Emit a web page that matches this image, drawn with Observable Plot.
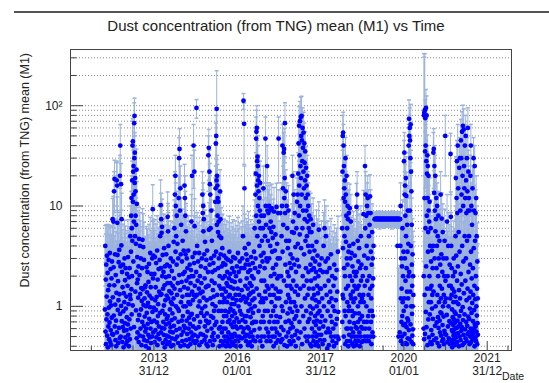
<!DOCTYPE html>
<html><head><meta charset="utf-8">
<script src="https://cdn.jsdelivr.net/npm/d3@7"></script>
<script src="https://cdn.jsdelivr.net/npm/@observablehq/plot@0.6"></script>
<style>
html,body{margin:0;padding:0;background:#fff;}
#chart{position:relative;width:549px;height:383px;overflow:hidden;}
</style></head><body><div id="chart"></div>
<script>
// Each entry: [fraction of year, mean dust concentration, error]
const y2012 = [[.822,0.93,3.1],[.831,4.0,2.4],[.836,0.56,2.2],[.842,1.85,3.4],[.848,0.42,1.6],[.853,2.6,3.9],[.859,0.74,2.5],[.864,1.25,2.8],[.871,3.2,3.3],[.876,0.51,1.9],[.882,0.83,2.9],[.887,2.15,4.4],[.893,0.39,1.4],[.899,1.45,3.0],[.904,0.63,2.2],[.911,2.9,3.6],[.916,0.97,2.6],[.922,0.47,1.7],[.928,1.62,3.5],[.933,0.69,2.3],[.939,3.4,2.9],[.945,1.12,2.7],[.951,0.44,1.5],[.957,2.35,3.8],[.962,0.58,2.0],[.968,1.02,3.1],[.974,0.41,1.3],[.979,1.9,3.3],[.985,0.77,2.4],[.991,2.8,3.6],[.996,0.53,1.8]];
const y2013 = [[.006,7.4,4.5],[.011,1.23,3.2],[.017,0.52,2.1],[.024,7.0,5.5],[.029,2.45,3.6],[.034,0.81,2.7],[.041,14,8],[.046,1.62,3.4],[.052,18.6,10],[.057,0.63,2.3],[.063,3.3,4.2],[.068,1.04,2.9],[.074,0.46,1.8],[.081,2.05,3.5],[.087,0.72,2.6],[.093,0.4,1.2],[.099,1.36,3.1],[.105,18,9],[.108,0.55,2.0],[.114,16,12],[.119,6.8,5.5],[.124,3.25,4.0],[.13,0.92,2.8],[.136,1.78,3.6],[.141,0.43,1.6],[.147,1.15,3.0],[.153,2.75,3.9],[.159,0.61,2.2],[.165,3.65,5],[.171,1.32,3.2],[.177,0.48,1.9],[.183,20,12],[.186,0.84,2.7],[.19,40,25],[.195,2.5,3.8],[.201,0.5,2.0],[.207,16.5,10],[.211,1.01,2.9],[.216,4.05,5],[.222,7.4,6],[.227,0.71,2.5],[.233,2.2,3.6],[.239,0.44,1.7],[.245,1.55,3.3],[.251,0.62,2.2],[.257,2.6,4],[.263,0.89,2.8],[.269,0.39,1.3],[.275,1.35,3.1],[.281,0.57,2.1],[.287,1.1,3.0],[.293,3.0,4.2],[.299,0.68,2.4],[.305,1.82,3.5],[.311,0.49,1.9],[.317,2.4,3.9],[.323,0.95,2.9],[.329,0.42,1.5],[.335,1.25,3.1],[.341,0.58,2.1],[.347,0.78,2.6],[.353,2.1,3.6],[.359,0.45,1.7],[.365,1.6,3.2],[.371,0.66,2.3],[.377,3.1,4.2],[.383,0.52,2.0],[.389,1.05,2.9],[.395,0.4,1.4],[.401,1.95,3.5],[.407,0.74,2.5],[.413,2.4,3.8],[.419,0.47,1.8],[.425,1.3,3.1],[.431,5.0,5],[.436,1.18,3.0],[.441,0.6,2.2],[.447,3.5,4.2],[.452,8.0,6],[.456,1.48,3.3],[.46,12,8],[.464,0.83,2.7],[.468,6.0,5],[.472,2.0,3.6],[.476,18,10],[.48,4.5,4.8],[.484,40,30],[.488,1.02,2.9],[.492,44,30],[.496,11,8],[.5,22,14],[.504,2.8,4],[.508,25,15],[.512,13,9],[.516,7,6],[.52,0.62,2.2],[.524,67,40],[.528,30,20],[.532,79,40],[.536,17,10],[.54,34,20],[.544,5,5],[.548,19,12],[.552,1.4,3.3],[.556,14,9],[.56,8,6],[.564,4.2,4.6],[.568,0.91,2.8],[.572,6.5,5.5],[.576,2.2,3.7],[.58,23,14],[.584,0.48,1.9],[.588,10.5,7],[.592,1.7,3.4],[.597,3.1,4.2],[.603,0.55,2.0],[.609,1.85,3.5],[.615,0.73,2.5],[.621,1.22,3.1],[.627,2.5,3.9],[.633,0.44,1.7],[.64,4.7,5],[.646,0.82,2.7],[.652,2.05,3.6],[.658,0.51,2.0],[.664,4.0,4.6],[.67,1.33,3.2],[.676,0.6,2.2],[.682,3.0,4.1],[.688,0.93,2.8],[.694,1.52,3.3],[.7,0.41,1.5],[.706,1.13,3.0],[.712,2.4,3.8],[.718,0.7,2.4],[.724,4.6,4.8],[.73,1.48,3.2],[.736,0.5,1.9],[.742,3.9,4.5],[.748,1.03,2.9],[.754,0.64,2.2],[.76,2.9,4.0],[.766,0.46,1.8],[.772,1.2,3.0],[.778,0.79,2.6],[.784,1.55,3.3],[.79,0.56,2.0],[.796,1.62,3.3],[.802,0.4,1.4],[.808,1.0,2.9],[.814,0.6,2.1],[.82,2.45,3.8],[.826,0.86,2.8],[.832,1.38,3.2],[.838,0.45,1.7],[.844,2.2,3.7],[.85,0.67,2.3],[.856,1.08,3.0],[.862,0.52,2.0],[.868,1.75,3.4],[.874,0.38,1.2],[.88,2.65,3.9],[.886,0.75,2.5],[.892,1.28,3.1],[.898,0.49,1.9],[.904,0.98,2.9],[.91,3.4,4.3],[.916,0.6,2.1],[.922,1.55,3.3],[.928,0.43,1.6],[.934,2.1,3.6],[.94,0.7,2.4],[.946,1.2,3.1],[.952,0.5,1.9],[.958,3.0,4.1],[.964,0.88,2.8],[.97,9.3,7],[.976,1.9,3.5],[.982,0.55,2.0],[.988,3.2,4.2],[.994,0.97,2.9]];
const y2014 = [[.004,0.72,2.5],[.01,2.1,3.6],[.016,0.44,1.7],[.022,3.1,4.2],[.028,1.15,3.0],[.034,0.58,2.1],[.04,1.55,3.3],[.046,0.92,2.8],[.052,2.7,3.9],[.058,0.49,1.9],[.064,1.24,3.1],[.07,0.69,2.4],[.076,3.6,4.4],[.082,0.41,1.5],[.088,1.85,3.4],[.094,0.8,2.6],[.1,1.05,2.9],[.106,0.53,2.0],[.112,2.35,3.7],[.118,0.63,2.2],[.124,1.4,3.2],[.13,0.47,1.8],[.136,2.9,4.0],[.142,0.86,2.7],[.148,5.0,5],[.154,1.3,3.1],[.16,10.2,8],[.164,2.4,3.8],[.168,0.55,2.0],[.173,7.4,6],[.178,1.32,3.2],[.183,5.4,5],[.188,0.61,2.2],[.193,6.2,5.5],[.198,2.0,3.6],[.203,0.9,2.8],[.208,3.25,4.2],[.213,0.43,1.6],[.218,1.5,3.3],[.223,0.7,2.4],[.228,2.2,3.7],[.233,0.52,2.0],[.238,1.02,2.9],[.243,3.8,4.5],[.248,0.6,2.1],[.253,1.62,3.3],[.258,0.39,1.3],[.263,2.5,3.9],[.268,0.83,2.7],[.273,1.15,3.0],[.278,0.46,1.8],[.283,1.95,3.5],[.288,0.66,2.3],[.293,3.3,4.2],[.298,0.51,1.9],[.303,1.28,3.1],[.308,0.75,2.5],[.313,2.6,3.9],[.318,0.42,1.6],[.323,1.7,3.4],[.328,7.8,6],[.333,0.8,2.6],[.338,5.6,5],[.343,1.2,3.0],[.348,4.0,4.6],[.353,0.5,1.9],[.358,2.0,3.6],[.363,0.68,2.4],[.368,1.42,3.2],[.373,0.44,1.7],[.378,2.5,3.9],[.383,0.93,2.8],[.388,0.56,2.1],[.393,1.7,3.4],[.398,0.62,2.2],[.403,3.0,4.1],[.408,1.1,3.0],[.413,0.4,1.4],[.418,1.35,3.1],[.423,0.73,2.5],[.428,2.25,3.7],[.433,0.48,1.9],[.438,1.05,2.9],[.443,0.85,2.7],[.448,1.6,3.3],[.453,0.55,2.0],[.458,2.8,4.0],[.463,0.41,1.5],[.468,1.2,3.0],[.473,4.4,4.7],[.478,0.64,2.3],[.483,1.9,3.5],[.488,6.0,5.5],[.493,1.5,3.3],[.498,0.76,2.5],[.503,13,9],[.508,0.47,1.8],[.513,20,12],[.518,3.5,4.3],[.523,10,7],[.528,1.0,2.9],[.533,5.0,5],[.538,0.58,2.1],[.543,2.6,3.9],[.548,8.0,6],[.553,1.3,3.1],[.558,0.5,1.9],[.563,4.2,4.6],[.568,0.95,2.8],[.573,1.7,3.4],[.578,0.43,1.6],[.583,3.0,4.1],[.588,0.7,2.4],[.593,12,8],[.598,0.9,2.8],[.603,30,18],[.608,2.05,3.6],[.613,37,22],[.618,0.6,2.2],[.623,9,7],[.628,1.45,3.2],[.633,15,10],[.638,0.4,1.4],[.643,3.3,4.2],[.648,1.1,3.0],[.653,6.5,5.5],[.658,0.52,2.0],[.663,1.75,3.4],[.668,0.72,2.5],[.673,2.8,4.0],[.678,0.45,1.7],[.683,1.25,3.1],[.688,4.5,4.8],[.693,0.8,2.6],[.698,2.1,3.6],[.703,0.56,2.1],[.708,1.0,2.9],[.713,3.6,4.4],[.718,0.64,2.3],[.723,1.55,3.3],[.728,0.41,1.5],[.733,16,10],[.738,2.2,3.7],[.743,12,8],[.748,0.61,2.2],[.753,8,6],[.758,3.3,4.2],[.763,1.0,2.9],[.768,5.6,5],[.773,0.46,1.8],[.778,1.8,3.4],[.783,0.72,2.5],[.788,3.0,4.1],[.793,1.3,3.1],[.798,0.53,2.0],[.803,2.4,3.8],[.808,0.88,2.8],[.813,1.5,3.3],[.818,0.4,1.4],[.823,3.6,4.4],[.828,1.1,3.0],[.833,0.6,2.2],[.838,1.95,3.5],[.843,0.77,2.6],[.848,1.3,3.1],[.853,0.47,1.8],[.858,2.6,3.9],[.863,0.67,2.4],[.868,1.05,2.9],[.873,0.42,1.6],[.878,1.7,3.4],[.883,0.82,2.7],[.888,2.3,3.7],[.893,0.55,2.0],[.898,7,6],[.903,2.0,3.6],[.908,0.84,2.7],[.913,20,12],[.918,1.4,3.2],[.923,0.5,1.9],[.928,3.1,4.2],[.933,1.15,3.0],[.938,0.63,2.3],[.943,2.0,3.6],[.947,0.45,1.7],[.951,40,25],[.955,1.3,3.1],[.96,0.74,2.5],[.964,2.7,3.9],[.968,22,14],[.972,0.52,2.0],[.975,6.3,5.5],[.979,1.6,3.3],[.983,3.4,4.3],[.988,0.43,1.6],[.993,1.25,3.1]];
const y2015 = [[.006,0.6,2.2],[.012,2.2,3.7],[.02,95,20],[.024,0.45,1.7],[.03,1.3,3.1],[.036,4.0,4.6],[.042,0.8,2.6],[.048,1.8,3.4],[.054,0.5,1.9],[.06,2.8,4.0],[.066,1.0,2.9],[.072,0.62,2.2],[.078,1.5,3.3],[.084,3.4,4.3],[.09,0.41,1.5],[.096,1.12,3.0],[.102,2.0,3.6],[.108,0.7,2.4],[.114,1.35,3.2],[.12,0.53,2.0],[.126,2.5,3.9],[.132,0.86,2.7],[.138,1.7,3.4],[.144,0.44,1.7],[.15,3.0,4.1],[.156,0.95,2.8],[.162,13,9],[.166,1.4,3.2],[.171,8.5,6],[.176,0.52,2.0],[.181,10,7],[.186,5.6,5],[.191,1.22,3.1],[.196,7.4,6],[.201,0.8,2.6],[.206,3.3,4.2],[.211,0.46,1.8],[.216,1.9,3.5],[.221,0.63,2.3],[.226,4.4,4.7],[.231,1.0,2.9],[.236,2.4,3.8],[.241,0.5,1.9],[.246,1.55,3.3],[.251,0.72,2.5],[.256,2.9,4.0],[.261,0.42,1.6],[.266,1.15,3.0],[.271,0.85,2.7],[.276,3.6,4.4],[.281,0.57,2.1],[.286,1.6,3.3],[.291,0.4,1.4],[.296,2.2,3.7],[.301,0.68,2.4],[.306,32,18],[.311,1.6,3.3],[.316,38,20],[.321,5.8,5],[.326,0.7,2.4],[.331,22,14],[.336,2.6,3.9],[.341,16.5,10],[.346,0.45,1.7],[.351,13,9],[.356,1.2,3.0],[.361,6.0,5.5],[.366,0.8,2.6],[.371,3.0,4.1],[.376,9,7],[.381,0.6,2.2],[.386,1.8,3.4],[.391,4.5,4.8],[.396,0.5,1.9],[.401,2.2,3.7],[.406,1.05,2.9],[.411,0.41,1.5],[.416,1.45,3.2],[.421,0.77,2.6],[.426,2.7,3.9],[.431,0.54,2.0],[.436,1.25,3.1],[.441,0.9,2.8],[.446,3.2,4.2],[.451,0.46,1.8],[.456,1.7,3.4],[.461,0.65,2.3],[.466,2.3,3.7],[.471,11,8],[.476,1.0,2.9],[.481,15,10],[.486,42,25],[.49,3.5,4.3],[.494,50,30],[.498,0.7,2.4],[.502,18,11],[.506,93,130],[.51,6.5,5.5],[.514,20,12],[.518,1.3,3.1],[.522,16,10],[.526,8,6],[.53,12,8],[.534,0.5,1.9],[.538,5.5,5],[.542,2.4,3.8],[.546,11,8],[.55,0.9,2.8],[.554,7.0,6],[.558,3.0,4.1],[.562,0.6,2.2],[.566,1.6,3.3],[.57,5.0,5],[.574,0.4,1.4],[.578,2.0,3.6],[.582,1.1,3.0],[.586,14,9],[.59,0.62,2.2],[.595,7.4,6],[.6,3.3,4.2],[.605,1.5,3.3],[.61,0.45,1.7],[.615,4.8,4.8],[.62,0.9,2.8],[.625,2.5,3.9],[.63,0.55,2.0],[.635,1.3,3.1],[.64,3.8,4.5],[.645,0.7,2.4],[.65,1.9,3.5],[.655,0.41,1.5],[.66,1.1,3.0],[.665,2.7,3.9],[.67,0.6,2.2],[.675,1.5,3.3],[.68,0.8,2.6],[.685,3.2,4.2],[.69,0.5,1.9],[.695,1.2,3.1],[.7,2.0,3.6],[.705,0.45,1.7],[.71,0.9,2.8],[.715,2.6,3.9],[.72,0.6,2.2],[.725,1.4,3.2],[.73,0.4,1.4],[.735,3.0,4.1],[.74,0.8,2.6],[.745,1.7,3.4],[.75,0.5,1.9],[.755,1.1,3.0],[.76,2.2,3.7],[.765,0.43,1.6],[.77,1.6,3.3],[.775,0.7,2.4],[.78,2.9,4.0],[.785,0.55,2.0],[.79,1.25,3.1],[.795,0.88,2.8],[.8,1.9,3.5],[.805,0.47,1.8],[.81,3.5,4.4],[.815,0.73,2.5],[.82,1.3,3.1],[.825,0.4,1.4],[.83,2.1,3.6],[.835,0.95,2.8],[.84,1.55,3.3],[.845,0.52,2.0],[.85,2.8,4.0],[.855,0.66,2.3],[.86,1.05,2.9],[.865,0.44,1.7],[.87,1.8,3.4],[.875,0.8,2.6],[.88,2.4,3.8],[.885,0.49,1.9],[.89,1.2,3.0],[.895,0.62,2.2],[.9,3.1,4.2],[.905,0.9,2.8],[.91,1.5,3.3],[.915,0.41,1.5],[.92,2.2,3.7],[.925,0.7,2.4],[.93,1.05,2.9],[.935,0.53,2.0],[.94,1.75,3.4],[.945,0.85,2.7],[.95,3.0,4.1],[.955,0.45,1.7],[.96,1.3,3.1],[.965,0.63,2.3],[.97,2.0,3.6],[.975,0.4,1.4],[.98,1.15,3.0],[.985,0.76,2.6],[.99,2.5,3.9],[.995,0.5,1.9]];
const y2016 = [[.005,0.6,2.2],[.011,1.5,3.3],[.017,3.4,4.3],[.023,0.45,1.7],[.029,1.0,2.9],[.035,2.2,3.7],[.041,0.7,2.4],[.047,1.3,3.1],[.053,0.5,1.9],[.059,2.8,4.0],[.065,0.9,2.8],[.071,1.8,3.4],[.077,0.4,1.4],[.083,1.15,3.0],[.089,0.62,2.2],[.095,2.4,3.8],[.101,0.83,2.7],[.107,1.45,3.2],[.113,0.48,1.8],[.119,3.0,4.1],[.125,0.73,2.5],[.131,1.2,3.0],[.137,5.0,5],[.143,0.55,2.0],[.149,112,20],[.153,1.25,3.1],[.158,0.6,2.2],[.163,66,40],[.167,2.4,3.8],[.172,15,10],[.176,0.8,2.6],[.181,3.8,4.5],[.186,0.5,1.9],[.191,1.6,3.3],[.196,0.7,2.4],[.201,2.6,3.9],[.206,1.1,3.0],[.211,0.45,1.7],[.216,3.3,4.2],[.221,0.8,2.6],[.226,1.9,3.5],[.231,0.52,2.0],[.236,1.2,3.0],[.241,2.9,4.0],[.246,0.62,2.2],[.251,1.5,3.3],[.256,0.41,1.5],[.261,2.2,3.7],[.266,0.9,2.8],[.271,4.2,4.6],[.276,0.6,2.2],[.281,1.3,3.1],[.286,2.6,3.9],[.291,0.5,1.9],[.296,1.05,2.9],[.301,1.7,3.4],[.306,0.44,1.7],[.311,2.3,3.7],[.316,0.78,2.6],[.321,1.35,3.2],[.326,0.55,2.0],[.331,3.1,4.2],[.336,0.95,2.8],[.341,1.6,3.3],[.346,0.4,1.4],[.351,2.0,3.6],[.356,0.68,2.4],[.361,1.15,3.0],[.366,0.5,1.9],[.371,2.7,3.9],[.376,0.86,2.7],[.381,1.4,3.2],[.386,0.46,1.8],[.391,1.9,3.5],[.396,0.7,2.4],[.401,3.5,4.4],[.406,0.58,2.1],[.411,1.2,3.0],[.416,6.0,5.5],[.421,1.0,2.9],[.426,2.4,3.8],[.431,0.45,1.7],[.436,13,9],[.44,3.0,4.1],[.444,21,13],[.448,0.7,2.4],[.452,47,30],[.456,8,6],[.46,55,35],[.464,1.5,3.3],[.468,60,40],[.472,16,10],[.476,28,17],[.48,5,5],[.484,31,19],[.488,0.5,1.9],[.492,25,15],[.496,10,7],[.5,18,11],[.504,2.2,3.7],[.508,14,9],[.512,0.9,2.8],[.516,20,12],[.52,7,6],[.524,1.3,3.1],[.528,12,8],[.532,4.0,4.6],[.536,0.6,2.2],[.54,9,7],[.544,2.5,3.9],[.548,17,11],[.552,0.45,1.7],[.556,6.0,5.5],[.56,1.1,3.0],[.565,3.2,4.2],[.57,0.7,2.4],[.575,8,6],[.58,1.8,3.4],[.585,0.5,1.9],[.59,4.5,4.8],[.595,1.2,3.0],[.6,0.4,1.4],[.605,2.8,4.0],[.61,0.8,2.6],[.615,6.0,5.5],[.62,1.1,3.0],[.625,15,10],[.63,3.4,4.3],[.635,0.7,2.4],[.64,8,6],[.645,1.8,3.4],[.65,0.5,1.9],[.655,2.4,3.8],[.66,0.9,2.8],[.665,5.0,5],[.67,1.4,3.2],[.675,47,30],[.68,10,7],[.685,1.2,3.0],[.69,6.5,5.5],[.695,0.6,2.2],[.7,3.0,4.1],[.705,0.45,1.7],[.71,1.6,3.3],[.715,25,15],[.72,2.8,4.0],[.725,9,7],[.73,0.9,2.8],[.735,4.5,4.8],[.74,0.55,2.0],[.745,8.5,6],[.75,1.5,3.3],[.755,0.5,1.9],[.76,10,7],[.765,3.0,4.1],[.77,0.7,2.4],[.775,6.0,5.5],[.78,9,7],[.785,1.3,3.1],[.79,4.0,4.6],[.795,0.45,1.7],[.8,7.0,6],[.805,2.0,3.6],[.81,0.8,2.6],[.815,5.5,5],[.82,1.1,3.0],[.825,9.5,7],[.83,0.6,2.2],[.835,3.5,4.4],[.84,1.6,3.3],[.845,0.5,1.9],[.85,4.8,4.8],[.855,2.4,3.8],[.86,0.9,2.8],[.865,6.2,5.5],[.87,0.4,1.4],[.875,1.3,3.1],[.88,8.8,6.5],[.885,0.7,2.4],[.89,2.1,3.6],[.895,0.5,1.9],[.9,3.6,4.4],[.905,1.0,2.9],[.91,0.6,2.2],[.915,5.2,5],[.92,1.5,3.3],[.925,0.43,1.6],[.93,2.6,3.9],[.935,0.8,2.6],[.94,9.8,7],[.945,1.2,3.0],[.95,0.55,2.0],[.955,4.2,4.6],[.96,1.9,3.5],[.965,0.7,2.4],[.97,3.0,4.1],[.975,0.46,1.8],[.98,8.5,6],[.985,1.4,3.2],[.99,47,30],[.995,2.0,3.6]];
const y2017 = [[.005,1.2,3.0],[.012,0.52,2.0],[.018,3.0,4.1],[.024,0.78,2.6],[.03,8.5,6],[.036,1.4,3.2],[.042,0.44,1.7],[.048,2.0,3.6],[.054,0.62,2.2],[.06,5.0,5],[.066,1.0,2.9],[.072,10,7],[.077,0.47,1.8],[.082,40,25],[.087,3.5,4.4],[.092,0.9,2.8],[.097,15,10],[.102,6.5,5.5],[.107,0.58,2.1],[.112,34,20],[.117,1.8,3.4],[.122,37,22],[.127,12,8],[.132,0.41,1.5],[.137,19,12],[.142,67,40],[.147,8.5,6],[.152,2.6,3.9],[.157,0.7,2.4],[.162,14,9],[.167,1.1,3.0],[.172,4.5,4.8],[.177,0.5,1.9],[.182,10,7],[.187,1.6,3.3],[.192,0.4,1.4],[.197,6.0,5.5],[.202,2.2,3.7],[.207,0.85,2.7],[.212,3.8,4.5],[.217,1.3,3.1],[.222,0.55,2.0],[.227,9,7],[.232,2.0,3.6],[.237,0.72,2.5],[.242,4.5,4.8],[.247,1.2,3.0],[.252,0.45,1.7],[.257,2.7,3.9],[.262,0.95,2.8],[.267,1.6,3.3],[.272,0.6,2.2],[.277,3.3,4.2],[.282,0.42,1.6],[.287,1.1,3.0],[.292,2.4,3.8],[.297,0.68,2.4],[.302,1.5,3.3],[.307,0.5,1.9],[.312,5.5,5],[.317,0.88,2.8],[.322,20,12],[.327,3.0,4.1],[.332,0.62,2.2],[.337,7,6],[.342,1.8,3.4],[.347,0.45,1.7],[.352,13,9],[.357,5.4,5],[.362,1.1,3.0],[.367,2.6,3.9],[.372,0.75,2.5],[.377,8.5,6],[.382,1.4,3.2],[.387,0.52,2.0],[.392,3.9,4.5],[.397,1.0,2.9],[.402,0.4,1.4],[.407,2.2,3.7],[.412,0.8,2.6],[.417,6.0,5.5],[.422,1.6,3.3],[.427,0.57,2.1],[.432,11,8],[.437,2.9,4.0],[.442,0.9,2.8],[.447,13,9],[.452,4.2,4.6],[.457,1.3,3.1],[.462,21,13],[.466,0.48,1.8],[.47,42,25],[.474,8,6],[.478,2.5,3.9],[.482,63,35],[.486,16,10],[.49,0.7,2.4],[.494,32,19],[.498,5.2,5],[.502,70,40],[.506,10,7],[.51,1.5,3.3],[.514,25,15],[.518,0.55,2.0],[.522,77,45],[.526,19,12],[.53,3.8,4.5],[.534,50,30],[.538,1.0,2.9],[.542,79,45],[.546,13,9],[.55,45,28],[.554,0.42,1.6],[.558,28,17],[.562,6,5.5],[.566,60,35],[.57,2.0,3.6],[.574,38,22],[.578,9,7],[.582,0.8,2.6],[.586,22,14],[.59,54,32],[.594,1.6,3.3],[.598,15,10],[.602,3.3,4.2],[.606,42,25],[.61,0.6,2.2],[.614,27,16],[.618,7.4,6],[.622,1.2,3.0],[.626,18,11],[.63,35,20],[.634,4.5,4.8],[.638,0.5,1.9],[.642,12,8],[.646,2.4,3.8],[.65,24,15],[.654,0.9,2.8],[.658,9,7],[.662,16,10],[.666,1.8,3.4],[.67,5,5],[.674,0.45,1.7],[.678,20,12],[.682,7,6],[.686,1.3,3.1],[.69,13,9],[.694,0.7,2.4],[.698,4,4.6],[.702,10,7],[.706,2.2,3.7],[.71,0.5,1.9],[.715,6,5.5],[.72,1.5,3.3],[.725,8,6],[.73,0.75,2.5],[.735,3.5,4.4],[.74,5.5,5],[.745,1.0,2.9],[.75,0.42,1.6],[.755,2.6,3.9],[.76,7.4,6],[.765,0.85,2.7],[.77,1.8,3.4],[.775,0.4,1.4],[.78,5.5,5],[.785,2.3,3.7],[.79,0.6,2.2],[.795,4,4.6],[.8,1.2,3.0],[.805,0.5,1.9],[.81,3.0,4.1],[.815,0.95,2.8],[.82,6.5,5.5],[.825,1.5,3.3],[.83,0.45,1.7],[.835,2.4,3.8],[.84,0.7,2.4],[.845,1.3,3.1],[.85,3.6,4.4],[.855,0.55,2.0],[.86,1.9,3.5],[.865,0.8,2.6],[.87,2.8,4.0],[.875,0.41,1.5],[.88,1.15,3.0],[.885,0.65,2.3],[.89,2.2,3.7],[.895,0.5,1.9],[.9,4.4,4.7],[.905,1.0,2.9],[.91,0.72,2.5],[.915,1.6,3.3],[.92,0.44,1.7],[.925,3.2,4.2],[.93,0.85,2.7],[.935,1.35,3.2],[.94,0.52,2.0],[.945,2.0,3.6],[.95,0.4,1.4],[.955,5.8,5.2],[.96,1.1,3.0],[.965,0.6,2.2],[.97,2.6,3.9],[.975,0.9,2.8],[.98,1.5,3.3],[.985,0.46,1.8],[.99,2.3,3.7],[.995,0.7,2.4]];
const y2018 = [[.006,1.5,3.3],[.014,0.52,2.0],[.022,3.0,4.1],[.03,0.8,2.6],[.038,1.2,3.0],[.046,0.42,1.6],[.054,2.2,3.7],[.062,0.63,2.3],[.07,4.0,4.6],[.078,1.0,2.9],[.086,0.46,1.8],[.094,6.0,5.5],[.102,1.6,3.3],[.11,0.72,2.5],[.118,2.8,4.0],[.126,5.0,5],[.134,0.55,2.0],[.142,1.3,3.1],[.15,2.2,3.7],[.158,0.38,1.2],[.166,0.9,2.8],[.174,3.0,4.1],[.182,0.6,2.2],[.19,1.8,3.4],[.198,0.41,1.5],[.206,1.1,3.0],[.214,2.4,3.8],[.222,0.55,2.0],[.23,1.4,3.2],[.238,0.8,2.6],[.246,3.3,4.2],[.254,0.5,1.9],[.262,1.2,3.0],[.27,0.7,2.4],[.278,2.0,3.6],[.286,0.45,1.7],[.294,1.0,2.9],[.302,0.6,2.2],[.31,1.6,3.3],[.318,0.4,1.4],[.326,2.6,3.9],[.334,0.9,2.8],[.342,0.5,1.9],[.35,1.9,3.5],[.358,0.66,2.3],[.366,1.15,3.0],[.374,0.43,1.6],[.382,2.3,3.7],[.39,0.75,2.5],[.398,1.4,3.2],[.406,0.5,1.9],[.414,3.5,4.4],[.422,0.88,2.8],[.43,0.47,1.8],[.516,6.0,5.5],[.52,0.7,2.4],[.524,22,14],[.528,1.3,3.1],[.532,50,30],[.536,3.8,4.5],[.54,54,32],[.544,1.2,3.0],[.548,40,25],[.552,12,8],[.556,0.5,1.9],[.56,25,15],[.564,2.4,3.8],[.568,15,10],[.572,5,5],[.576,0.9,2.8],[.58,18,11],[.584,2.0,3.6],[.588,11,8],[.592,0.42,1.6],[.596,30,18],[.6,0.8,2.6],[.604,13,9],[.608,4.4,4.7],[.612,1.5,3.3],[.616,8,6],[.62,0.6,2.2],[.624,20,12],[.628,3.0,4.1],[.632,0.45,1.7],[.636,6.0,5.5],[.64,1.1,3.0],[.644,2.6,3.9],[.648,10,7],[.652,0.6,2.2],[.656,7.4,6],[.66,1.6,3.3],[.664,0.4,1.4],[.668,3.5,4.4],[.672,0.9,2.8],[.676,8.5,6],[.68,1.0,2.9],[.685,0.52,2.0],[.69,4.0,4.6],[.695,0.7,2.4],[.7,9.5,7],[.705,2.0,3.6],[.71,0.45,1.7],[.715,3.0,4.1],[.72,1.3,3.1],[.725,7.0,6],[.73,0.6,2.2],[.735,1.2,3.0],[.74,3.4,4.3],[.745,0.5,1.9],[.75,0.9,2.8],[.755,1.8,3.4],[.76,0.42,1.6],[.765,2.5,3.9],[.77,0.8,2.6],[.775,1.4,3.2],[.78,0.55,2.0],[.785,4.2,4.6],[.79,1.1,3.0],[.795,0.4,1.4],[.8,2.2,3.7],[.805,0.68,2.4],[.81,1.6,3.3],[.815,0.5,1.9],[.82,3.2,4.2],[.825,0.85,2.7],[.83,1.2,3.0],[.835,0.45,1.7],[.84,2.0,3.6],[.845,0.62,2.2],[.85,1.5,3.3],[.855,0.41,1.5],[.86,9.8,7],[.865,2.2,3.7],[.87,0.6,2.2],[.875,13,9],[.88,1.5,3.3],[.885,0.5,1.9],[.89,4.5,4.8],[.895,1.0,2.9],[.9,0.7,2.4],[.905,2.8,4.0],[.91,0.45,1.7],[.915,1.6,3.3],[.92,0.85,2.7],[.925,3.8,4.5],[.93,0.55,2.0],[.935,1.3,3.1],[.94,0.4,1.4],[.945,2.4,3.8],[.95,0.75,2.5],[.955,1.1,3.0],[.96,0.5,1.9],[.965,5.0,5],[.97,1.8,3.4],[.975,0.62,2.2],[.98,2.6,3.9],[.985,0.44,1.7],[.99,1.2,3.0],[.995,0.8,2.6]];
const y2019 = [[.005,0.6,2.2],[.011,2.0,3.6],[.017,0.45,1.7],[.023,1.3,3.1],[.029,8.3,6],[.035,1.1,3.0],[.041,0.7,2.4],[.047,3.2,4.2],[.053,0.5,1.9],[.059,1.6,3.3],[.065,25,15],[.07,6,5.5],[.075,0.6,2.2],[.08,13,9],[.085,2.4,3.8],[.09,0.45,1.7],[.095,8,6],[.1,1.0,2.9],[.105,4.0,4.6],[.11,0.7,2.4],[.115,10,7],[.12,1.8,3.4],[.125,0.5,1.9],[.13,12,8],[.135,3.0,4.1],[.14,0.8,2.6],[.145,8.5,6],[.15,1.3,3.1],[.155,0.45,1.7],[.16,5.0,5],[.165,0.6,2.2],[.17,2.0,3.6],[.175,6.5,5.5],[.18,0.9,2.8],[.185,12.5,8],[.19,1.5,3.3],[.195,0.5,1.9],[.2,8.5,6],[.205,3.5,4.4],[.21,0.7,2.4],[.215,1.2,3.0],[.22,0.42,1.6],[.225,2.6,3.9],[.23,0.9,2.8],[.235,5.5,5],[.24,1.6,3.3],[.245,0.55,2.0],[.25,3.0,4.1],[.255,0.8,2.6],[.26,1.9,3.5],[.265,0.5,1.9],[.27,4.0,4.6],[.295,7.4,1.2],[.307,7.4,1.3],[.319,7.5,1.0],[.331,7.4,1.2],[.343,7.4,1.1],[.355,7.5,1.3],[.367,7.4,1.0],[.379,7.4,1.2],[.391,7.5,1.1],[.403,7.4,1.2],[.415,7.4,1.5],[.427,7.4,1.0],[.439,7.5,1.2],[.451,7.4,1.1],[.463,7.4,1.3],[.475,7.4,1.2],[.487,7.5,1.0],[.499,7.4,1.2],[.511,7.4,1.1],[.523,7.4,1.4],[.535,7.5,1.2],[.547,7.4,1.0],[.559,7.4,1.2],[.571,7.4,1.1],[.583,7.5,1.3],[.595,7.4,1.2],[.607,7.4,1.0],[.619,7.4,1.2],[.631,7.5,1.1],[.643,7.4,1.2],[.655,7.4,1.3],[.667,7.4,1.0],[.679,7.5,1.2],[.691,7.4,1.1],[.703,7.4,1.2],[.715,7.4,1.5],[.727,7.5,1.2],[.739,7.4,1.1],[.751,7.4,1.0],[.763,7.4,1.2],[.775,7.5,1.1],[.787,7.4,1.2],[.799,7.4,1.3],[.811,7.4,1.0],[.823,7.5,1.2],[.835,7.4,1.1],[.847,7.4,1.2],[.859,7.4,1.4],[.871,7.5,1.2],[.883,7.4,1.1],[.895,7.4,1.0],[.907,7.4,1.2],[.845,4.0,4.6],[.87,0.5,1.9],[.9,0.55,2.0],[.915,4.0,4.6],[.92,10,7],[.925,1.2,3.0],[.93,0.45,1.7],[.935,3.0,4.1],[.94,0.7,2.4],[.945,1.5,3.3],[.95,0.5,1.9],[.955,2.5,3.9],[.96,0.8,2.6],[.965,6,5.5],[.97,1.1,3.0],[.975,0.42,1.6],[.98,2.0,3.6],[.985,0.65,2.3],[.99,3.5,4.4],[.995,0.9,2.8]];
const y2020 = [[.002,28,17],[.006,1.2,3.0],[.01,34,20],[.014,0.53,1.9],[.018,13,9],[.022,3.0,4.1],[.026,16,10],[.03,0.67,2.4],[.034,8,6],[.038,1.8,3.4],[.042,0.43,1.7],[.046,19,12],[.05,5.0,5],[.054,1.0,2.9],[.058,12.6,9],[.062,0.62,2.2],[.066,2.4,3.8],[.07,0.42,1.6],[.074,1.4,3.2],[.078,6.5,5.5],[.082,0.76,2.6],[.086,3.5,4.4],[.09,0.48,1.9],[.094,9,7],[.098,1.2,3.0],[.102,0.72,2.4],[.106,4.2,4.6],[.11,2.0,3.6],[.114,40,25],[.118,0.58,2.0],[.122,74,40],[.126,2.2,3.7],[.13,50,30],[.134,0.47,1.9],[.138,60,35],[.142,9,7],[.146,45,28],[.15,1.4,3.2],[.154,30,18],[.158,0.66,2.4],[.162,65,38],[.166,4.0,4.6],[.17,22,14],[.174,1.0,2.9],[.178,14,9],[.182,0.44,1.7],[.186,6.5,5.5],[.19,2.6,3.9],[.194,0.84,2.6],[.198,1.6,3.3],[.202,0.51,1.9],[.206,3.3,4.2],[.21,1.0,2.9],[.214,0.59,2.2],[.218,2.0,3.6],[.222,0.42,1.6],[.226,1.3,3.1],[.472,0.6,2.2],[.476,2.0,3.6],[.48,80,250],[.484,0.47,1.7],[.488,85,220],[.492,12,8],[.496,1.3,3.1],[.5,90,240],[.504,0.53,1.9],[.508,35,20],[.512,75,40],[.516,6,5.5],[.52,40,25],[.524,0.88,2.8],[.528,95,50],[.532,2.5,3.9],[.536,28,17],[.54,0.62,2.2],[.544,80,45],[.548,8,6],[.552,21,13],[.556,1.5,3.3],[.56,32,19],[.564,0.41,1.4],[.568,12,8],[.572,25,15],[.576,3.5,4.4],[.58,5.5,5],[.584,0.74,2.4],[.588,20,12],[.592,9,7],[.596,1.1,3.0],[.6,0.49,1.9],[.605,7,6],[.61,2.0,3.6],[.615,11,8],[.62,0.83,2.6],[.625,4.0,4.6],[.63,1.5,3.3],[.635,0.44,1.7],[.64,6.0,5.5],[.645,1.1,3.0],[.65,2.8,4.0],[.655,0.58,2.2],[.66,1.6,3.3],[.665,0.42,1.6],[.67,3.6,4.4],[.675,0.95,2.8],[.68,1.3,3.1],[.685,0.52,1.9],[.69,2.4,3.8],[.695,0.75,2.5],[.7,4.0,4.6],[.705,34,20],[.71,1.4,3.2],[.715,37,22],[.72,0.46,1.7],[.725,13.5,9],[.73,25,15],[.735,3.0,4.1],[.74,9,7],[.745,0.64,2.2],[.75,20,12],[.755,5.6,5],[.76,1.0,2.9],[.765,7.4,6],[.77,0.48,1.9],[.775,12,8],[.78,2.4,3.8],[.785,0.69,2.4],[.79,4.0,4.6],[.795,10,7],[.8,1.3,3.1],[.805,0.43,1.7],[.81,5.0,5],[.815,0.78,2.6],[.82,2.0,3.6],[.825,8,6],[.83,0.61,2.2],[.835,3.0,4.1],[.84,1.1,3.0],[.845,0.4,1.4],[.85,4.5,4.8],[.855,0.72,2.4],[.86,1.6,3.3],[.865,0.55,1.9],[.87,2.6,3.9],[.875,0.87,2.8],[.88,13,9],[.885,1.2,3.0],[.89,0.51,2.0],[.895,3.3,4.2],[.9,0.85,2.6],[.905,7.5,6],[.91,1.5,3.3],[.915,0.45,1.7],[.92,2.2,3.7],[.925,0.65,2.3],[.93,5.5,5],[.935,1.0,2.9],[.94,0.47,1.9],[.945,3.0,4.1],[.95,0.79,2.5],[.955,1.3,3.1],[.96,0.42,1.6],[.965,2.0,3.6],[.97,0.57,2.2],[.975,4.5,4.8],[.98,1.1,3.0],[.985,0.53,1.9],[.99,50,30],[.995,1.8,3.4]];
const y2021 = [[.005,1.2,3.0],[.012,0.52,1.9],[.019,3.0,4.1],[.026,0.82,2.6],[.033,7,6],[.04,0.44,1.7],[.047,2.0,3.6],[.054,0.63,2.2],[.061,4.0,4.6],[.068,1.0,2.9],[.075,0.48,1.9],[.082,1.6,3.3],[.089,0.71,2.4],[.096,2.6,3.9],[.103,0.42,1.6],[.11,1.2,3.0],[.117,33,20],[.121,1.6,3.3],[.125,7.8,6],[.129,0.68,2.4],[.133,4.0,4.6],[.137,0.46,1.7],[.141,1.3,3.1],[.145,2.4,3.8],[.149,0.58,2.2],[.153,0.93,2.8],[.157,0.39,1.4],[.161,1.5,3.3],[.165,0.56,2.0],[.169,0.78,2.6],[.173,0.43,1.6],[.177,2.0,3.6],[.181,0.65,2.3],[.185,1.1,3.0],[.189,0.51,1.9],[.193,3.0,4.1],[.197,0.74,2.5],[.201,0.47,1.8],[.205,1.4,3.2],[.209,0.59,2.1],[.213,0.88,2.8],[.217,0.41,1.5],[.221,2.2,3.7],[.225,0.69,2.4],[.229,0.53,1.9],[.233,1.25,3.0],[.237,5.0,5],[.241,0.84,2.6],[.245,19,12],[.249,0.49,1.9],[.253,3.2,4.2],[.257,1.1,3.0],[.261,12,8],[.265,0.61,2.2],[.269,28,17],[.273,1.8,3.4],[.277,0.44,1.7],[.281,8.5,6],[.285,0.72,2.4],[.289,40,25],[.293,2.5,3.9],[.297,0.54,1.9],[.301,15,10],[.305,1.05,2.9],[.309,0.63,2.2],[.313,5.5,5],[.317,0.4,1.4],[.321,1.45,3.2],[.325,24,15],[.329,0.8,2.6],[.333,3.5,4.4],[.337,0.5,1.9],[.341,30,18],[.345,1.2,3.0],[.349,0.67,2.4],[.353,9,7],[.357,0.46,1.7],[.361,2.1,3.6],[.365,45,28],[.369,0.9,2.8],[.373,30,18],[.377,0.57,2.0],[.381,13,9],[.385,1.65,3.3],[.389,0.62,2.2],[.393,55,32],[.397,4.0,4.6],[.401,0.41,1.4],[.405,20,12],[.409,0.98,2.9],[.413,63,38],[.417,0.73,2.4],[.421,10,7],[.425,2.8,4.0],[.429,0.52,1.9],[.433,58,35],[.437,1.35,3.1],[.441,25,15],[.445,0.43,1.7],[.449,15,10],[.453,0.83,2.6],[.457,5.0,5],[.461,40,25],[.465,0.59,2.2],[.469,12,8],[.473,1.8,3.4],[.477,0.48,1.9],[.481,50,30],[.485,3.0,4.1],[.489,18,11],[.493,0.7,2.4],[.497,8.5,6],[.501,1.15,3.0],[.505,0.45,1.7],[.509,30,18],[.513,4.5,4.8],[.517,0.64,2.2],[.521,14,9],[.525,1.5,3.3],[.529,0.53,1.9],[.533,60,35],[.537,9,7],[.541,0.79,2.6],[.545,22,14],[.549,2.2,3.7],[.553,0.55,2.0],[.557,12,8],[.561,5,5],[.565,0.75,2.4],[.569,1.22,3.0],[.573,0.42,1.7],[.577,9,7],[.581,0.95,2.8],[.585,2.6,3.9],[.589,0.5,1.9],[.593,20,12],[.597,1.4,3.2],[.601,0.6,2.2],[.605,40,25],[.609,3.5,4.4],[.613,0.44,1.6],[.617,10,7],[.621,0.86,2.6],[.625,1.9,3.5],[.629,0.51,1.9],[.633,6.5,5.5],[.637,1.08,3.0],[.641,0.57,2.2],[.645,15,10],[.649,0.47,1.7],[.653,2.4,3.8],[.657,0.71,2.4],[.661,1.3,3.1],[.665,0.54,1.9],[.669,30,18],[.673,3.8,4.5],[.677,0.6,2.0],[.681,9,7],[.685,0.92,2.8],[.689,1.6,3.3],[.693,0.4,1.6],[.697,25,15],[.701,0.66,2.4],[.705,4.5,4.8],[.709,1.18,3.0],[.713,0.49,1.9],[.717,8.5,6],[.721,0.63,2.2],[.725,2.0,3.6],[.729,0.45,1.7],[.733,12,8],[.737,1.0,2.9],[.741,0.56,2.0],[.745,5.0,5],[.749,0.81,2.6],[.753,1.5,3.3],[.757,0.42,1.4],[.761,2.8,4.0],[.765,0.68,2.3],[.769,1.2,3.0],[.773,0.52,1.9]];

const seasons = [[2012,y2012],[2013,y2013],[2014,y2014],[2015,y2015],[2016,y2016],[2017,y2017],[2018,y2018],[2019,y2019],[2020,y2020],[2021,y2021]];

const xDomain = ["2011-12-31","2022-08-01"];
const majorTickDates = ["2011-12-31","2013-12-31","2016-01-01","2017-12-31","2020-01-01","2021-12-31"];
const majorTickLabels = ["","2013\n31/12","2016\n01/01","2017\n31/12","2020\n01/01","2021\n31/12"];
const yDomain = [0.363, 363];
const yTickValues = [1, 10, 100];
const yTickLabels = ["1", "10", "10\u00b2"];
const gridValues = [0.4,0.5,0.6,0.7,0.8,0.9,1,2,3,4,5,6,7,8,9,10,20,30,40,50,60,70,80,90,100,200,300];

const W = 549, H = 383, mL = 70, mR = 38, mT = 49, mB = 33;
const fw = W - mL - mR, fh = H - mT - mB;

function toDate(year, frac) {
  const s = Date.UTC(year, 0, 1), e = Date.UTC(year + 1, 0, 1);
  return new Date(s + frac * (e - s));
}
const pts = seasons.flatMap(([yr, arr]) => arr.map(([f, v, e]) => ({
  date: toDate(yr, f), value: v, lo: v - e, hi: v + e
})));
const loClamp = d => Math.max(d.lo, 0.2);

const majors = majorTickDates.map(s => new Date(s + "T00:00:00Z"));
const minors = [];
for (let i = 0; i < majors.length; i++) {
  const a = majors[i], b = i + 1 < majors.length ? majors[i + 1] : new Date(+majors[i] + (majors[i] - majors[i - 1]));
  for (let k = 1; k < 4; k++) minors.push(new Date(+a + (b - a) * k / 4));
}
const xEnd = new Date(xDomain[1] + "T00:00:00Z");
const yMinor = gridValues.filter(v => !yTickValues.includes(v));

const capSymbol = { draw(ctx) { ctx.moveTo(-2, 0); ctx.lineTo(2, 0); } };
const barColor = "#9cb3dc";
const axisColor = "#444";

const chart = Plot.plot({
  width: W, height: H,
  marginLeft: mL, marginRight: mR, marginTop: mT, marginBottom: mB,
  style: { fontFamily: "'Liberation Sans', Arial, sans-serif", fontSize: "12px", color: "#222", background: "#fff" },
  x: { type: "utc", domain: xDomain.map(s => new Date(s + "T00:00:00Z")) },
  y: { type: "log", domain: yDomain },
  marks: [
    Plot.ruleY(gridValues, { y: d => d, stroke: "#8a8a8a", strokeDasharray: "1,2", strokeWidth: 1 }),
    Plot.ruleX(pts, { x: "date", y1: loClamp, y2: "hi", stroke: barColor, strokeWidth: 1, clip: true }),
    Plot.dot(pts, { x: "date", y: "hi", symbol: capSymbol, stroke: barColor, fill: "none", r: 2, clip: true }),
    Plot.dot(pts.filter(d => d.lo > yDomain[0]), { x: "date", y: "lo", symbol: capSymbol, stroke: barColor, fill: "none", r: 2, clip: true }),
    Plot.dot(pts, { x: "date", y: "value", r: 2.4, fill: "#0000ff", stroke: "none", clip: true }),
    Plot.frame({ stroke: axisColor, strokeWidth: 1 }),
    Plot.ruleY(yTickValues, { y: d => d, insetRight: fw - 13, stroke: axisColor }),
    Plot.ruleY(yMinor, { y: d => d, insetRight: fw - 6.5, stroke: axisColor }),
    Plot.ruleX(majors, { x: d => d, insetTop: fh - 9, stroke: axisColor }),
    Plot.ruleX(minors.filter(d => d < xEnd), { x: d => d, insetTop: fh - 4.5, stroke: axisColor }),
    Plot.axisY({ ticks: yTickValues, tickFormat: d => yTickLabels[yTickValues.indexOf(d)], tickSize: 0, tickPadding: 8, fontSize: 12, label: null }),
    Plot.axisX({ ticks: majors.slice(1), tickFormat: d => majorTickLabels[majors.findIndex(m => +m === +d)], tickSize: 0, tickPadding: 2, fontSize: 12, lineHeight: 1.1, label: null })
  ]
});

const svg = d3.select(chart);
svg.append("line").attr("x1", 14).attr("x2", W).attr("y1", 12).attr("y2", 12).attr("stroke", "#555").attr("stroke-width", 2);
svg.append("text").attr("x", 276).attr("y", 31).attr("text-anchor", "middle").attr("font-size", 15).attr("fill", "#222")
  .text("Dust concentration (from TNG) mean (M1) vs Time");
svg.append("text").attr("transform", "translate(29,53) rotate(-90)").attr("text-anchor", "end").attr("font-size", 12.5).attr("fill", "#222")
  .text("Dust concentration (from TNG) mean (M1)");
svg.append("text").attr("x", 502).attr("y", 380).attr("text-anchor", "start").attr("font-size", 10.5).attr("fill", "#222").text("Date");

document.getElementById("chart").appendChild(chart);
</script></body></html>
